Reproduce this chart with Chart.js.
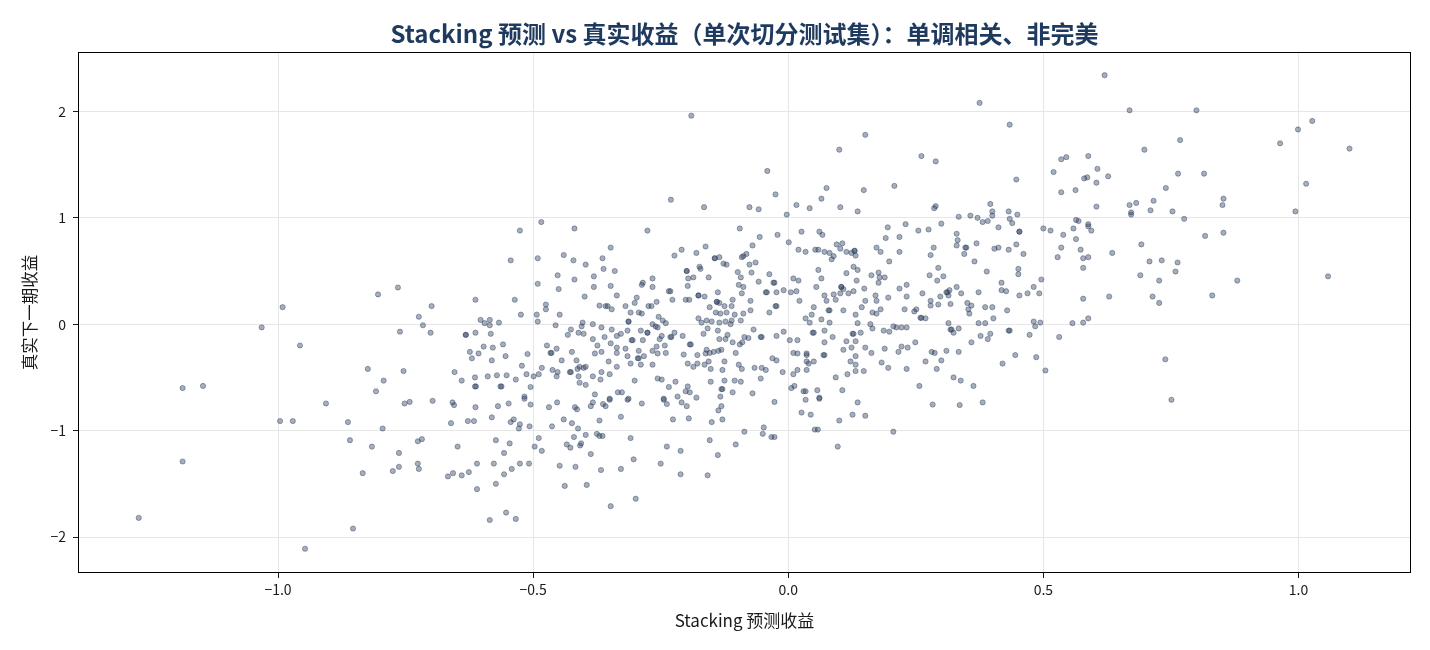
<!DOCTYPE html>
<html>
<head>
<meta charset="utf-8">
<title>Stacking 预测 vs 真实收益</title>
<script src="https://cdn.jsdelivr.net/npm/chart.js@4.4.1/dist/chart.umd.min.js"></script>
<style>
  html, body { margin: 0; padding: 0; background: #fff; }
  canvas { display: block; }
</style>
</head>
<body>
<canvas id="chart" width="1430" height="650"></canvas>
<script>
const TITLE = "Stacking 预测 vs 真实收益（单次切分测试集）：单调相关、非完美";
const X_LABEL = "Stacking 预测收益";
const Y_LABEL = "真实下一期收益";

const xTicks = [-1.0, -0.5, 0.0, 0.5, 1.0];
const yTicks = [-2, -1, 0, 1, 2];
const X_MIN = -1.392, X_MAX = 1.2205;
const Y_MIN = -2.338, Y_MAX = 2.558;

// Stacking 预测收益 (x) —— 按区域从图上读取
const predX = [
  // 上方
  -0.19,-0.23,-0.165,-0.484,0.375,0.434,0.151,0.100,0.261,0.289,
  -0.041,0.520,0.535,0.545,0.447,0.535,0.563,-0.025,0.075,0.148,
  0.208,0.065,0.396,-0.076,-0.058,0.016,0.042,0.102,0.289,0.286,
  0.400,0.432,-0.003,0.136,0.334,0.357,0.371,0.381,0.391,0.400,
  0.434,0.439,0.449,0.230,0.300,0.564,
  // 右上
  0.620,0.669,0.800,1.027,0.999,0.768,0.698,0.964,1.100,0.588,
  0.606,0.580,0.586,0.627,0.604,0.764,0.815,0.740,0.853,0.851,
  1.015,0.604,0.669,0.682,0.716,0.672,0.672,0.710,0.753,0.776,
  0.994,0.569,0.588,
  // 左侧
  -0.765,-0.804,-0.991,-1.032,-0.761,-0.957,-0.824,-0.754,-0.793,-0.808,
  -1.187,-1.147,
  // 左下
  -1.187,-1.273,-0.996,-0.971,-0.906,-0.863,-0.795,-0.752,-0.742,-0.859,
  -0.816,-0.763,-0.763,-0.775,-0.834,-0.853,-0.947,
  // 中下
  -0.697,-0.658,-0.655,-0.613,-0.569,-0.548,-0.517,-0.505,-0.469,-0.453,
  -0.418,-0.414,-0.387,-0.383,-0.363,-0.358,-0.350,-0.315,-0.287,-0.244,
  -0.238,-0.209,-0.199,-0.131,-0.137,-0.129,-0.150,-0.195,-0.226,-0.328,
  -0.370,-0.412,-0.424,-0.440,-0.463,-0.507,-0.526,-0.528,-0.538,-0.544,
  -0.581,-0.616,-0.628,-0.661,-0.726,-0.718,-0.726,-0.724,-0.648,-0.667,
  -0.657,-0.640,-0.626,-0.610,-0.610,-0.573,-0.577,-0.573,-0.557,-0.546,
  -0.557,-0.542,-0.526,-0.508,-0.585,-0.553,-0.534,-0.497,-0.489,-0.483,
  -0.448,-0.438,-0.434,-0.427,-0.420,-0.408,-0.406,-0.417,-0.397,-0.395,
  -0.387,-0.375,-0.370,-0.364,-0.367,-0.348,-0.328,-0.309,-0.303,-0.299,
  -0.250,-0.238,-0.211,-0.211,-0.158,-0.154,-0.138,-0.103,-0.086,
  // 右下
  -0.027,-0.048,-0.050,-0.033,-0.027,0.034,0.061,0.026,0.044,0.052,
  0.058,0.100,0.097,0.126,0.151,0.136,0.206,0.283,0.336,0.381,
  0.751,
  // 右侧
  0.588,0.594,0.564,0.573,0.578,0.588,0.578,0.635,0.692,0.817,
  0.853,0.708,0.732,0.763,0.759,0.690,0.727,0.880,1.058,0.578,
  0.629,0.714,0.727,0.831,0.578,0.588,0.739,
  // 中左密集区
  -0.526,-0.419,-0.276,-0.095,-0.348,-0.440,-0.421,-0.364,-0.397,-0.362,
  -0.340,-0.491,-0.544,-0.491,-0.452,-0.450,-0.419,-0.381,-0.381,-0.348,
  -0.336,-0.399,-0.613,-0.536,-0.699,-0.724,-0.716,-0.701,-0.603,-0.585,
  -0.595,-0.585,-0.567,-0.613,-0.583,-0.632,-0.632,-0.524,-0.493,-0.491,
  -0.475,-0.475,-0.448,-0.456,-0.426,-0.432,-0.411,-0.405,-0.403,-0.401,
  -0.383,-0.366,-0.346,-0.360,-0.383,-0.336,-0.370,-0.358,-0.354,-0.346,
  -0.319,-0.309,-0.301,-0.297,-0.293,-0.287,-0.274,-0.268,-0.258,-0.254,
  -0.246,-0.240,-0.266,-0.260,-0.256,-0.313,-0.313,-0.315,-0.289,-0.276,
  -0.276,-0.328,-0.307,-0.305,-0.285,-0.287,-0.285,-0.266,-0.266,-0.234,
  -0.231,-0.227,-0.223,-0.209,-0.180,-0.162,-0.199,-0.199,-0.174,-0.172,
  -0.144,-0.144,-0.135,-0.127,-0.121,-0.156,-0.196,-0.186,-0.197,-0.201,
  -0.194,-0.176,-0.176,-0.164,-0.138,-0.140,-0.140,-0.135,-0.109,-0.099,
  -0.093,-0.097,-0.091,-0.091,-0.154,-0.142,-0.133,-0.125,-0.111,-0.121,
  -0.105,-0.176,-0.170,-0.160,-0.150,-0.135,-0.123,-0.113,-0.111,-0.093,
  -0.158,-0.166,-0.193,-0.191,-0.207,-0.223,-0.229,-0.231,-0.248,-0.252,
  -0.258,-0.242,-0.266,-0.256,-0.240,-0.293,-0.319,-0.315,-0.295,-0.293,
  -0.289,-0.309,-0.283,-0.266,-0.336,-0.336,-0.348,-0.374,-0.379,-0.366,
  -0.352,-0.336,-0.366,-0.350,-0.368,-0.383,-0.397,-0.401,-0.409,-0.415,
  -0.413,-0.424,-0.444,-0.454,-0.466,-0.464,-0.473,-0.462,-0.452,-0.454,
  -0.428,-0.426,-0.411,-0.409,-0.397,-0.379,-0.350,-0.334,-0.326,-0.313,
  -0.301,-0.483,-0.489,-0.499,-0.513,-0.505,-0.517,-0.522,-0.511,-0.534,
  -0.552,-0.571,-0.589,-0.614,-0.614,-0.612,-0.564,-0.562,-0.640,-0.654,
  -0.581,-0.554,-0.559,-0.579,-0.597,-0.607,-0.620,-0.624,-0.256,-0.248,
  -0.234,-0.221,-0.217,-0.244,-0.201,-0.197,-0.193,-0.180,-0.152,-0.131,
  -0.129,-0.125,-0.109,-0.105,-0.093,-0.133,-0.152,-0.129,-0.125,-0.156,
  -0.164,-0.178,-0.186,-0.197,-0.205,-0.178,-0.162,-0.154,-0.146,-0.137,
  -0.131,-0.160,-0.135,-0.123,-0.119,-0.109,-0.095,-0.090,-0.097,-0.103,
  -0.091,-0.138,
  // 中右密集区
  -0.056,-0.021,0.026,0.061,0.067,0.001,-0.070,-0.082,-0.088,-0.076,
  -0.064,-0.072,-0.037,-0.058,-0.029,-0.027,0.010,0.020,-0.088,-0.044,
  -0.042,-0.023,-0.009,0.005,0.016,-0.074,-0.025,-0.023,-0.037,-0.074,
  -0.088,0.022,0.020,0.034,0.053,0.059,0.071,0.081,0.089,0.085,
  0.095,0.106,0.102,0.114,0.124,0.130,0.130,0.132,0.059,0.065,
  0.055,0.071,0.075,0.089,0.093,0.104,0.104,0.108,0.102,0.118,
  0.128,0.114,0.128,0.136,0.134,0.149,0.151,0.144,0.132,0.108,
  0.081,0.079,0.034,0.042,0.046,0.050,0.065,0.081,0.048,0.050,
  0.071,0.087,0.071,0.126,0.128,0.136,0.142,0.114,0.132,0.108,
  0.124,0.132,0.122,0.132,0.132,0.148,0.116,0.093,0.106,0.057,
  0.061,0.034,0.030,0.006,0.012,0.010,0.018,0.036,0.036,0.040,
  0.050,0.036,0.036,0.018,0.010,0.069,0.071,0.018,0.003,-0.009,
  -0.023,-0.052,-0.054,-0.068,-0.078,-0.086,-0.023,-0.031,-0.011,-0.066,
  -0.052,-0.044,-0.054,-0.070,0.163,0.177,0.179,0.189,0.177,0.171,
  0.173,0.165,0.173,0.181,0.196,0.191,0.195,0.218,0.173,0.181,
  0.218,0.198,0.255,0.275,0.285,0.279,0.330,0.332,0.330,0.347,
  0.349,0.345,0.369,0.365,0.412,0.453,0.453,0.404,0.412,0.432,
  0.447,0.461,0.500,0.514,0.539,0.559,0.535,0.528,0.389,0.294,
  0.277,0.292,0.304,0.232,0.218,0.232,0.263,0.279,0.279,0.294,
  0.298,0.310,0.312,0.316,0.330,0.314,0.318,0.339,0.351,0.359,
  0.353,0.355,0.373,0.386,0.400,0.402,0.228,0.247,0.251,0.259,
  0.261,0.269,0.314,0.318,0.320,0.324,0.334,0.373,0.386,0.377,
  0.396,0.391,0.359,0.432,0.434,0.418,0.427,0.429,0.418,0.451,
  0.451,0.453,0.469,0.481,0.496,0.492,0.481,0.484,0.494,0.473,
  0.531,0.557,0.486,0.504,0.445,0.420,0.310,0.334,0.300,0.291,
  0.269,0.281,0.287,0.249,0.232,0.234,0.222,0.216,0.189,0.163,
  0.151,0.183,0.196,0.161,0.165,0.187,0.198,0.206,0.212,0.222,
  0.232,0.324,0.338,0.257,0.363,
];

// 真实下一期收益 (y)，与 predX 一一对应
const realY = [
  // 上方
  1.96,1.17,1.10,0.96,2.08,1.875,1.78,1.64,1.58,1.53,
  1.44,1.43,1.55,1.57,1.36,1.24,1.26,1.22,1.28,1.26,
  1.30,1.18,1.13,1.10,1.08,1.12,1.09,1.10,1.11,1.09,
  1.06,1.06,1.03,1.06,1.01,1.02,1.00,0.96,0.97,1.02,
  0.99,0.95,1.03,0.94,0.945,0.98,
  // 右上
  2.34,2.01,2.01,1.91,1.83,1.73,1.64,1.70,1.65,1.58,
  1.46,1.37,1.38,1.39,1.33,1.415,1.415,1.28,1.18,1.12,
  1.32,1.105,1.12,1.14,1.16,1.05,1.03,1.07,1.06,0.99,
  1.06,0.97,0.94,
  // 左侧
  0.345,0.28,0.16,-0.03,-0.07,-0.20,-0.42,-0.44,-0.53,-0.63,
  -0.60,-0.58,
  // 左下
  -1.29,-1.82,-0.91,-0.91,-0.745,-0.92,-0.98,-0.745,-0.73,-1.09,
  -1.15,-1.21,-1.34,-1.38,-1.40,-1.92,-2.11,
  // 中下
  -0.72,-0.735,-0.76,-0.78,-0.77,-0.745,-0.70,-0.755,-0.78,-0.735,
  -0.78,-0.80,-0.77,-0.735,-0.75,-0.77,-0.71,-0.71,-0.745,-0.71,
  -0.75,-0.735,-0.77,-0.77,-0.81,-0.895,-0.92,-0.885,-0.895,-0.87,
  -0.905,-0.98,-0.93,-0.895,-0.96,-0.96,-0.94,-0.98,-0.895,-0.92,
  -0.875,-0.91,-0.91,-0.93,-1.10,-1.08,-1.31,-1.36,-1.15,-1.43,
  -1.40,-1.42,-1.39,-1.31,-1.55,-1.09,-1.31,-1.50,-1.21,-1.12,
  -1.41,-1.36,-1.31,-1.31,-1.84,-1.77,-1.83,-1.15,-1.07,-1.19,
  -1.33,-1.52,-1.13,-1.16,-1.06,-1.14,-1.12,-1.34,-1.04,-1.51,
  -1.22,-1.03,-1.05,-1.05,-1.37,-1.71,-1.36,-1.07,-1.27,-1.64,
  -1.31,-1.15,-1.19,-1.41,-1.42,-1.09,-1.23,-1.13,-1.01,
  // 右下
  -0.73,-0.97,-1.03,-1.06,-1.06,-0.71,-0.70,-0.83,-0.85,-0.99,
  -0.99,-0.905,-1.15,-0.85,-0.86,-0.735,-1.01,-0.755,-0.76,-0.735,
  -0.71,
  // 右侧
  0.92,0.88,0.80,0.70,0.62,0.63,0.53,0.67,0.75,0.83,
  0.86,0.59,0.60,0.58,0.495,0.46,0.41,0.41,0.45,0.24,
  0.26,0.26,0.20,0.27,0.015,0.055,-0.33,
  // 中左密集区
  0.88,0.90,0.88,0.90,0.72,0.65,0.60,0.62,0.56,0.52,
  0.50,0.62,0.60,0.38,0.46,0.33,0.42,0.45,0.35,0.36,
  0.27,0.26,0.23,0.23,0.17,0.07,-0.01,-0.08,0.04,0.04,
  0.01,-0.01,0.015,-0.08,-0.09,-0.10,-0.10,0.09,0.09,0.025,
  0.185,0.14,0.09,-0.01,-0.05,-0.10,-0.08,-0.02,0.015,-0.09,
  0.00,-0.03,-0.05,-0.12,-0.14,-0.11,0.175,0.17,0.17,0.14,
  0.17,0.11,0.20,0.25,0.11,0.10,0.17,0.17,0.21,0.07,
  0.035,0.01,0.00,-0.02,-0.03,0.025,0.025,-0.06,-0.06,-0.08,
  -0.08,-0.09,-0.15,-0.15,-0.15,0.37,0.39,0.43,0.35,0.31,
  0.31,0.23,0.645,0.70,0.67,0.73,0.50,0.50,0.54,0.52,
  0.62,0.62,0.63,0.57,0.56,0.44,0.43,0.44,0.36,0.23,
  0.23,0.27,0.27,0.26,0.30,0.21,0.21,0.20,0.23,0.49,
  0.44,0.37,0.29,0.63,0.16,0.11,0.10,0.17,0.17,0.11,
  0.09,0.055,0.015,0.035,0.025,0.015,0.025,0.00,0.035,0.035,
  -0.04,-0.09,-0.19,-0.19,-0.11,-0.08,-0.12,-0.12,-0.11,-0.14,
  -0.21,-0.20,-0.25,-0.275,-0.27,-0.25,-0.23,-0.30,-0.32,-0.32,
  -0.38,-0.37,-0.30,-0.38,-0.22,-0.27,-0.18,-0.20,-0.275,-0.26,
  -0.35,-0.40,-0.45,-0.47,-0.52,-0.49,-0.40,-0.41,-0.40,-0.34,
  -0.42,-0.26,-0.34,-0.23,-0.27,-0.27,-0.20,-0.43,-0.45,-0.49,
  -0.45,-0.45,-0.49,-0.55,-0.57,-0.66,-0.70,-0.64,-0.64,-0.70,
  -0.53,-0.41,-0.47,-0.49,-0.47,-0.59,-0.68,-0.39,-0.28,-0.52,
  -0.48,-0.48,-0.49,-0.50,-0.585,-0.585,-0.585,-0.585,-0.53,-0.45,
  -0.34,-0.30,-0.19,-0.22,-0.21,-0.275,-0.32,-0.26,-0.51,-0.52,
  -0.59,-0.54,-0.68,-0.70,-0.63,-0.585,-0.64,-0.69,-0.54,-0.61,
  -0.61,-0.53,-0.64,-0.53,-0.54,-0.68,-0.42,-0.43,-0.35,-0.35,
  -0.38,-0.37,-0.40,-0.37,-0.285,-0.29,-0.275,-0.27,-0.26,-0.25,
  -0.24,-0.24,-0.14,-0.14,-0.10,-0.17,-0.19,-0.17,-0.38,-0.27,
  -0.42,-0.06,
  // 中右密集区
  0.82,0.84,0.87,0.87,0.84,0.77,0.74,0.66,0.64,0.56,
  0.58,0.485,0.47,0.40,0.39,0.39,0.43,0.41,0.35,0.30,
  0.30,0.30,0.32,0.30,0.31,0.22,0.17,0.17,0.11,0.13,
  0.10,0.22,0.70,0.68,0.70,0.70,0.68,0.67,0.64,0.61,
  0.75,0.76,0.71,0.68,0.67,0.69,0.69,0.645,0.51,0.43,
  0.35,0.27,0.22,0.28,0.23,0.35,0.35,0.33,0.29,0.29,
  0.31,0.48,0.54,0.51,0.41,0.335,0.22,0.16,0.09,0.13,
  0.13,0.13,0.055,0.015,0.09,0.16,0.045,0.015,-0.08,-0.08,
  -0.06,-0.12,-0.17,-0.09,-0.09,0.01,-0.08,-0.16,-0.16,-0.24,
  -0.22,-0.30,-0.35,-0.38,-0.44,-0.44,-0.47,-0.50,-0.62,-0.62,
  -0.69,-0.63,-0.63,-0.60,-0.58,-0.47,-0.43,-0.43,-0.35,-0.37,
  -0.35,-0.29,-0.275,-0.275,-0.27,-0.29,-0.29,-0.15,-0.15,-0.07,
  -0.11,-0.12,-0.12,-0.05,-0.13,-0.12,-0.34,-0.32,-0.45,-0.41,
  -0.41,-0.43,-0.51,-0.65,0.46,0.485,0.44,0.44,0.39,0.27,
  0.22,0.11,0.10,0.14,0.25,0.81,0.91,0.82,0.72,0.68,
  0.68,0.59,0.88,0.89,0.72,0.65,0.85,0.79,0.74,0.72,
  0.72,0.66,0.76,0.59,0.91,0.87,0.87,0.71,0.72,0.70,
  0.75,0.66,0.90,0.88,0.84,0.90,0.72,0.63,0.495,0.53,
  0.46,0.41,0.45,0.37,0.335,0.26,0.29,0.22,0.175,0.185,
  0.26,0.30,0.30,0.32,0.35,0.27,0.19,0.29,0.20,0.175,
  0.14,0.10,0.30,0.16,0.16,0.055,0.14,0.12,0.14,0.06,
  0.06,0.055,0.01,-0.05,-0.05,-0.08,-0.04,0.01,0.01,-0.11,
  -0.09,-0.14,-0.17,-0.06,-0.06,0.32,0.31,0.13,0.39,0.52,
  0.47,0.27,0.29,0.35,0.42,0.29,0.025,-0.02,0.015,-0.10,
  -0.12,0.01,-0.31,-0.435,-0.29,-0.37,-0.25,-0.26,-0.34,-0.42,
  -0.35,-0.26,-0.27,-0.17,-0.42,-0.22,-0.21,-0.26,-0.23,-0.27,
  -0.22,-0.36,-0.41,0.00,-0.04,-0.06,-0.07,-0.02,-0.03,-0.03,
  -0.03,-0.50,-0.53,-0.58,-0.58,
];

const FONT = '"Noto Sans CJK SC", "Noto Sans", sans-serif';
const POINT_COLOR = "rgba(43,61,94,0.42)";

function fmtTick(v, digits) {
  const s = Math.abs(v).toFixed(digits);
  return v < 0 ? "\u2212" + s : s;
}

const points = predX.map((x, i) => ({ x, y: realY[i] }));

// 四周黑色边框
const frame = {
  id: "frame",
  afterDraw(chart) {
    const { ctx, chartArea: a } = chart;
    ctx.save();
    ctx.strokeStyle = "#000";
    ctx.lineWidth = 1;
    ctx.strokeRect(a.left + 0.5, a.top + 0.5, a.right - a.left - 1, a.bottom - a.top - 1);
    ctx.restore();
  },
};

Chart.defaults.font.family = FONT;

new Chart(document.getElementById("chart"), {
  type: "scatter",
  data: {
    datasets: [{
      data: points,
      pointRadius: 2.6,
      pointHoverRadius: 2.6,
      pointBorderWidth: 1,
      backgroundColor: POINT_COLOR,
      borderColor: POINT_COLOR,
    }],
  },
  options: {
    responsive: false,
    animation: false,
    devicePixelRatio: 1,
    layout: { padding: { left: 0, right: 19, top: 0, bottom: 0 } },
    plugins: {
      legend: { display: false },
      tooltip: { enabled: false },
      title: {
        display: true,
        fullSize: false,
        text: TITLE,
        color: "#1f3a5f",
        font: { size: 24, weight: "bold" },
        padding: { top: 19, bottom: 4.2 },
      },
    },
    scales: {
      x: {
        type: "linear",
        min: X_MIN,
        max: X_MAX,
        afterBuildTicks: (s) => { s.ticks = xTicks.map((v) => ({ value: v })); },
        afterFit: (s) => { s.height = 77; },
        ticks: { callback: (v) => fmtTick(v, 1), color: "#1a1a1a", font: { size: 14 }, padding: 3, maxRotation: 0 },
        grid: { color: "#e6e6e6", tickColor: "#1a1a1a", tickLength: 5 },
        border: { display: false },
        title: { display: true, text: X_LABEL, color: "#1a1a1a", font: { size: 17 }, padding: { top: 0, bottom: 19 } },
      },
      y: {
        type: "linear",
        min: Y_MIN,
        max: Y_MAX,
        afterBuildTicks: (s) => { s.ticks = yTicks.map((v) => ({ value: v })); },
        afterFit: (s) => { s.width = 78; },
        ticks: { callback: (v) => fmtTick(v, 0), color: "#1a1a1a", font: { size: 14 }, padding: 7 },
        grid: { color: "#e6e6e6", tickColor: "#1a1a1a", tickLength: 5 },
        border: { display: false },
        title: { display: true, text: Y_LABEL, color: "#1a1a1a", font: { size: 16.5 }, padding: { top: 20, bottom: 0 } },
      },
    },
  },
  plugins: [frame],
});
</script>
</body>
</html>
